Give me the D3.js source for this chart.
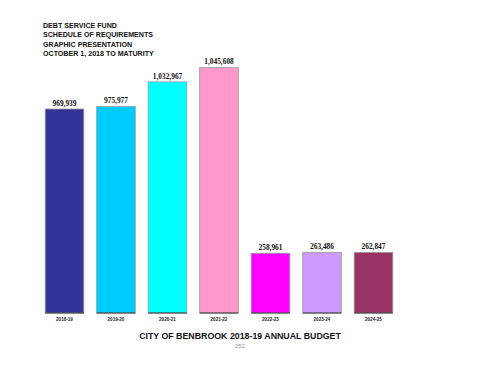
<!DOCTYPE html>
<html>
<head>
<meta charset="utf-8">
<script src="https://cdn.jsdelivr.net/npm/d3@7"></script>
<style>
  html, body { margin: 0; padding: 0; background: #fff; }
  svg { display: block; }
</style>
</head>
<body>
<div id="chart"></div>
<script>
// fiscal years and debt service requirement per year
const years  = ['2018-19', '2019-20', '2020-21', '2021-22', '2022-23', '2023-24', '2024-25'];
const values = [969939, 975977, 1032967, 1045608, 258961, 263486, 262847];
const colors = ['#333399', '#00ccff', '#00ffff', '#ff99cc', '#ff00ff', '#cc99ff', '#993366'];

const titleLines = ['DEBT SERVICE FUND', 'SCHEDULE OF REQUIREMENTS', 'GRAPHIC PRESENTATION', 'OCTOBER 1, 2018 TO MATURITY'];

(function(){
  const W = 480, H = 371;
  const svg = d3.select('#chart').append('svg')
      .attr('width', W)
      .attr('height', H);

  // titles top left
  svg.append('g').selectAll('text')
    .data(titleLines)
    .enter().append('text')
      .attr('x', 43)
      .attr('y', (d, i) => 28 + i * 9.3)
      .attr('font-family', 'Liberation Sans, Arial, sans-serif')
      .attr('font-weight', 'bold')
      .attr('font-size', '7.1px')
      .attr('fill', '#111')
      .text(d => d);

  const x = d3.scaleBand()
    .domain(years)
    .range([38.75, 399.25])
    .paddingInner(0.25)
    .paddingOuter(0.125);

  // original chart is not drawn to a single linear scale, so use a piecewise one
  const y = d3.scaleLinear()
    .domain([0, 260000, 970000, 1035000, 1046000])
    .range([313, 253, 109, 81, 67]);

  const data = years.map((yr, i) => ({ yr, v: values[i], c: colors[i] }));

  const bars = svg.append('g').selectAll('g')
    .data(data)
    .enter().append('g');

  bars.append('rect')
    .attr('x', d => x(d.yr))
    .attr('y', d => y(d.v))
    .attr('width', x.bandwidth())
    .attr('height', d => y(0) - y(d.v))
    .attr('fill', d => d.c)
    .attr('stroke', '#999')
    .attr('stroke-width', 0.8);

  // dark base line under each bar
  bars.append('line')
    .attr('x1', d => x(d.yr))
    .attr('x2', d => x(d.yr) + x.bandwidth())
    .attr('y1', y(0))
    .attr('y2', y(0))
    .attr('stroke', '#333')
    .attr('stroke-width', 1.2);

  bars.append('text')
    .attr('x', d => x(d.yr) + x.bandwidth() / 2)
    .attr('y', d => y(d.v) - 3)
    .attr('text-anchor', 'middle')
    .attr('font-family', 'Liberation Serif, Times New Roman, serif')
    .attr('font-weight', 'bold')
    .attr('font-size', '7.4px')
    .attr('fill', '#111')
    .text(d => d3.format(',')(d.v));

  bars.append('text')
    .attr('x', d => x(d.yr) + x.bandwidth() / 2)
    .attr('y', y(0) + 8)
    .attr('text-anchor', 'middle')
    .attr('font-family', 'Liberation Sans, Arial, sans-serif')
    .attr('font-weight', 'bold')
    .attr('font-size', '4.6px')
    .attr('fill', '#222')
    .text(d => d.yr);

  // footer
  svg.append('text')
    .attr('x', 240)
    .attr('y', 339)
    .attr('text-anchor', 'middle')
    .attr('font-family', 'Liberation Sans, Arial, sans-serif')
    .attr('font-weight', 'bold')
    .attr('font-size', '8.8px')
    .attr('fill', '#111')
    .text('CITY OF BENBROOK 2018-19 ANNUAL BUDGET');

  svg.append('text')
    .attr('x', 240)
    .attr('y', 348)
    .attr('text-anchor', 'middle')
    .attr('font-family', 'Liberation Sans, Arial, sans-serif')
    .attr('font-size', '6px')
    .attr('fill', '#999')
    .text('252');
})();
</script>
</body>
</html>
